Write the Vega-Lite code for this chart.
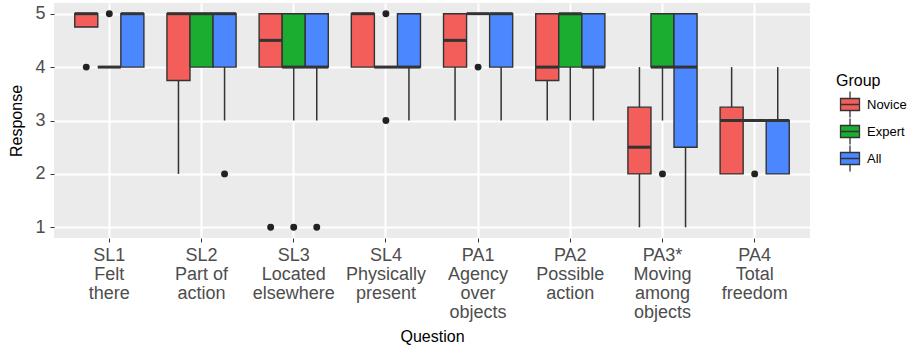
{
  "$schema": "https://vega.github.io/schema/vega-lite/v6.json",
  "width": 756,
  "height": 235,
  "autosize": {"type": "none"},
  "padding": {"left": 54, "top": 3, "right": 99, "bottom": 111},
  "background": "white",
  "config": {
    "font": "Liberation Sans",
    "view": {"fill": "#EBEBEB", "stroke": null}
  },
  "datasets": {
    "boxes": [
      {"question": "SL1|Felt|there", "group": "Novice", "lower": 4.75, "q1": 4.75, "median": 5, "q3": 5, "upper": 5},
      {"question": "SL1|Felt|there", "group": "Expert", "lower": 4, "q1": 4, "median": 4, "q3": 4, "upper": 4},
      {"question": "SL1|Felt|there", "group": "All", "lower": 4, "q1": 4, "median": 5, "q3": 5, "upper": 5},
      {"question": "SL2|Part of|action", "group": "Novice", "lower": 2, "q1": 3.75, "median": 5, "q3": 5, "upper": 5},
      {"question": "SL2|Part of|action", "group": "Expert", "lower": 4, "q1": 4, "median": 5, "q3": 5, "upper": 5},
      {"question": "SL2|Part of|action", "group": "All", "lower": 3, "q1": 4, "median": 5, "q3": 5, "upper": 5},
      {"question": "SL3|Located|elsewhere", "group": "Novice", "lower": 4, "q1": 4, "median": 4.5, "q3": 5, "upper": 5},
      {"question": "SL3|Located|elsewhere", "group": "Expert", "lower": 3, "q1": 4, "median": 4, "q3": 5, "upper": 5},
      {"question": "SL3|Located|elsewhere", "group": "All", "lower": 3, "q1": 4, "median": 4, "q3": 5, "upper": 5},
      {"question": "SL4|Physically|present", "group": "Novice", "lower": 4, "q1": 4, "median": 5, "q3": 5, "upper": 5},
      {"question": "SL4|Physically|present", "group": "Expert", "lower": 4, "q1": 4, "median": 4, "q3": 4, "upper": 4},
      {"question": "SL4|Physically|present", "group": "All", "lower": 3, "q1": 4, "median": 4, "q3": 5, "upper": 5},
      {"question": "PA1|Agency|over|objects", "group": "Novice", "lower": 3, "q1": 4, "median": 4.5, "q3": 5, "upper": 5},
      {"question": "PA1|Agency|over|objects", "group": "Expert", "lower": 5, "q1": 5, "median": 5, "q3": 5, "upper": 5},
      {"question": "PA1|Agency|over|objects", "group": "All", "lower": 3, "q1": 4, "median": 5, "q3": 5, "upper": 5},
      {"question": "PA2|Possible|action", "group": "Novice", "lower": 3, "q1": 3.75, "median": 4, "q3": 5, "upper": 5},
      {"question": "PA2|Possible|action", "group": "Expert", "lower": 3, "q1": 4, "median": 5, "q3": 5, "upper": 5},
      {"question": "PA2|Possible|action", "group": "All", "lower": 3, "q1": 4, "median": 4, "q3": 5, "upper": 5},
      {"question": "PA3*|Moving|among|objects", "group": "Novice", "lower": 1, "q1": 2, "median": 2.5, "q3": 3.25, "upper": 4},
      {"question": "PA3*|Moving|among|objects", "group": "Expert", "lower": 3, "q1": 4, "median": 4, "q3": 5, "upper": 5},
      {"question": "PA3*|Moving|among|objects", "group": "All", "lower": 1, "q1": 2.5, "median": 4, "q3": 5, "upper": 5},
      {"question": "PA4|Total|freedom", "group": "Novice", "lower": 2, "q1": 2, "median": 3, "q3": 3.25, "upper": 4},
      {"question": "PA4|Total|freedom", "group": "Expert", "lower": 3, "q1": 3, "median": 3, "q3": 3, "upper": 3},
      {"question": "PA4|Total|freedom", "group": "All", "lower": 2, "q1": 2, "median": 3, "q3": 3, "upper": 4}
    ],
    "outliers": [
      {"question": "SL1|Felt|there", "group": "Novice", "value": 4},
      {"question": "SL1|Felt|there", "group": "Expert", "value": 5},
      {"question": "SL2|Part of|action", "group": "All", "value": 2},
      {"question": "SL3|Located|elsewhere", "group": "Novice", "value": 1},
      {"question": "SL3|Located|elsewhere", "group": "Expert", "value": 1},
      {"question": "SL3|Located|elsewhere", "group": "All", "value": 1},
      {"question": "SL4|Physically|present", "group": "Expert", "value": 5},
      {"question": "SL4|Physically|present", "group": "Expert", "value": 3},
      {"question": "PA1|Agency|over|objects", "group": "Expert", "value": 4},
      {"question": "PA3*|Moving|among|objects", "group": "Expert", "value": 2},
      {"question": "PA4|Total|freedom", "group": "Expert", "value": 2}
    ]
  },
  "encoding": {
    "x": {
      "field": "question",
      "type": "nominal",
      "sort": ["SL1|Felt|there", "SL2|Part of|action", "SL3|Located|elsewhere", "SL4|Physically|present", "PA1|Agency|over|objects", "PA2|Possible|action", "PA3*|Moving|among|objects", "PA4|Total|freedom"],
      "scale": {"paddingInner": 0, "paddingOuter": 0.1},
      "axis": {
        "title": "Question",
        "titleFontSize": 16,
        "titleFontWeight": "normal",
        "titleColor": "#000000",
        "titlePadding": 7,
        "labelExpr": "split(datum.label, '|')",
        "labelAngle": 0,
        "labelFontSize": 18,
        "labelLineHeight": 19,
        "labelColor": "#4D4D4D",
        "labelPadding": 4,
        "tickColor": "#333333",
        "tickSize": 4,
        "tickWidth": 1,
        "domain": false,
        "grid": true,
        "gridColor": "#FFFFFF",
        "gridWidth": 2,
        "bandPosition": 0.5
      }
    },
    "xOffset": {
      "field": "group",
      "type": "nominal",
      "sort": ["Novice", "Expert", "All"],
      "scale": {"domain": ["Novice", "Expert", "All"], "paddingInner": 0, "paddingOuter": 0.5}
    }
  },
  "layer": [
    {
      "data": {"name": "boxes"},
      "mark": {"type": "rule", "color": "#333333", "strokeWidth": 1.5},
      "encoding": {
        "y": {
          "field": "lower",
          "type": "quantitative",
          "scale": {"domain": [0.8, 5.2], "nice": false, "zero": false},
          "axis": {
            "title": "Response",
            "titleFontSize": 16,
            "titleFontWeight": "normal",
            "titleColor": "#000000",
            "titlePadding": 10,
            "values": [1, 1.5, 2, 2.5, 3, 3.5, 4, 4.5, 5],
            "labelExpr": "datum.value % 1 === 0 ? datum.label : ''",
            "labelFontSize": 18,
            "labelColor": "#4D4D4D",
            "labelPadding": 5,
            "tickColor": "#333333",
            "tickSize": 4,
            "tickOpacity": {"condition": {"test": "datum.value % 1 === 0", "value": 1}, "value": 0},
            "domain": false,
            "grid": true,
            "gridColor": "#FFFFFF",
            "gridWidth": {"condition": {"test": "datum.value % 1 === 0", "value": 2}, "value": 1}
          }
        },
        "y2": {"field": "upper"}
      }
    },
    {
      "data": {"name": "boxes"},
      "mark": {"type": "bar", "stroke": "#333333", "strokeWidth": 1.4},
      "encoding": {
        "y": {"field": "q1", "type": "quantitative"},
        "y2": {"field": "q3"},
        "color": {
          "field": "group",
          "type": "nominal",
          "sort": ["Novice", "Expert", "All"],
          "scale": {"domain": ["Novice", "Expert", "All"], "range": ["#F35E5A", "#1BAD30", "#4B88FF"]},
          "legend": {
            "title": "Group",
            "orient": "none",
            "legendX": 782,
            "legendY": 70,
            "titleFontSize": 16,
            "titleFontWeight": "normal",
            "titleColor": "#000000",
            "titlePadding": 2,
            "labelFontSize": 13,
            "labelColor": "#000000",
            "labelOffset": 3,
            "symbolType": "M-0.73,-0.46H0.73V0.46H-0.73Z M-0.73,0H0.73 M0,-0.46V-1 M0,0.46V1",
            "symbolSize": 676,
            "symbolStrokeColor": "#333333",
            "symbolStrokeWidth": 1.3,
            "clipHeight": 27,
            "rowPadding": 0
          }
        }
      }
    },
    {
      "data": {"name": "boxes"},
      "mark": {"type": "tick", "orient": "horizontal", "size": 23, "thickness": 3, "color": "#333333", "opacity": 1},
      "encoding": {
        "y": {"field": "median", "type": "quantitative"}
      }
    },
    {
      "data": {"name": "outliers"},
      "mark": {"type": "point", "filled": true, "color": "#222222", "size": 48, "opacity": 1},
      "encoding": {
        "y": {"field": "value", "type": "quantitative"}
      }
    }
  ]
}
